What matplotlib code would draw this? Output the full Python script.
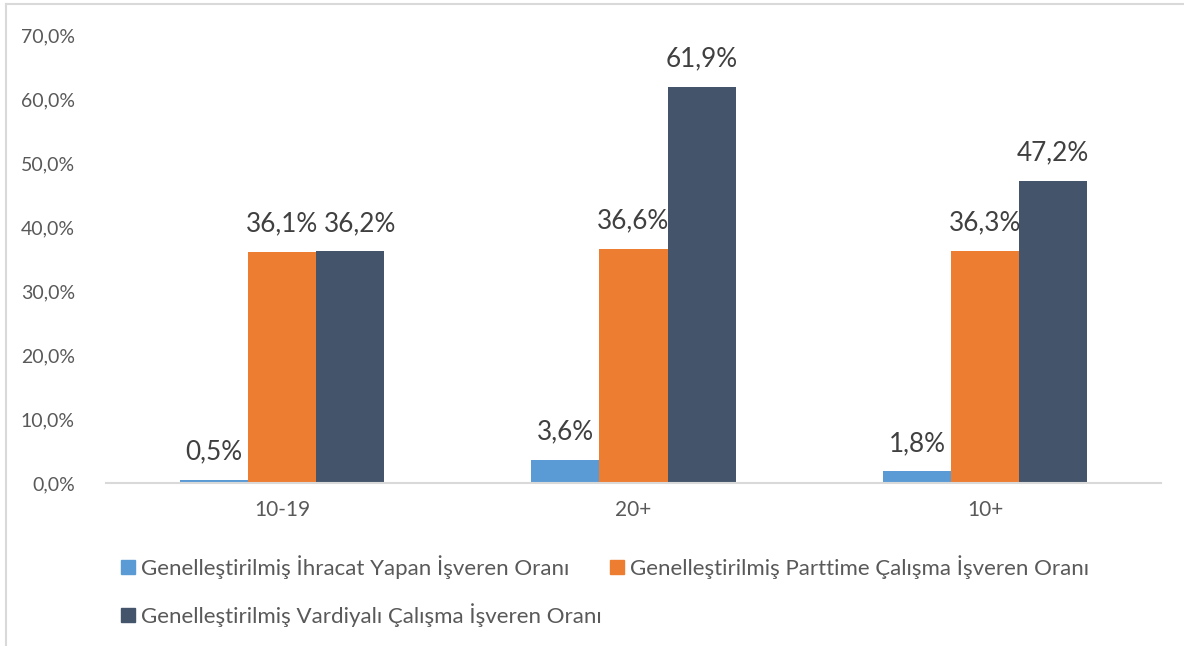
import numpy as np
import matplotlib
matplotlib.use('Agg')
import matplotlib.pyplot as plt
from matplotlib.lines import Line2D
from matplotlib.patches import Patch

plt.rcParams['font.family'] = ['Lato', 'DejaVu Sans']

# veriler
categories = ['10-19', '20+', '10+']
series_names = [
    'Genelleştirilmiş İhracat Yapan İşveren Oranı',
    'Genelleştirilmiş Parttime Çalışma İşveren Oranı',
    'Genelleştirilmiş Vardiyalı Çalışma İşveren Oranı',
]
ihracat = [0.5, 3.6, 1.8]
parttime = [36.1, 36.6, 36.3]
vardiyali = [36.2, 61.9, 47.2]
y_ticks = [0, 10, 20, 30, 40, 50, 60, 70]

colors = ['#5B9BD5', '#ED7D31', '#44546A']
text_gray = '#595959'
label_gray = '#404040'
line_gray = '#D9D9D9'

# 36,2% etiketi orijinalde biraz sağa kaydırılmış
label_shift = {(2, 0): 7}


def pct(v):
    return f'{v:.1f}%'.replace('.', ',')


fig = plt.figure(figsize=(11.84, 6.46), dpi=100)
ax = fig.add_axes([106 / 1184, 1 - 483 / 646, (1161 - 106) / 1184, (483 - 35) / 646])

x = np.arange(len(categories))
width = 0.1935
for i, (vals, col) in enumerate(zip([ihracat, parttime, vardiyali], colors)):
    b = ax.bar(x + (i - 1) * width, vals, width, color=col, zorder=2)
    for j, (rect, v) in enumerate(zip(b, vals)):
        dx = label_shift.get((i, j), 0)
        ax.annotate(pct(v), (rect.get_x() + rect.get_width() / 2, v),
                    xytext=(dx, 11), textcoords='offset points',
                    ha='center', va='bottom', fontsize=18.8, color=label_gray)

ax.set_xlim(-0.5, len(categories) - 0.5)
ax.set_ylim(0, 70)
ax.set_yticks(y_ticks)
ax.set_yticklabels([pct(t) for t in y_ticks])
ax.set_xticks(x)
ax.set_xticklabels(categories)
ax.tick_params(axis='both', length=0, colors=text_gray)
ax.tick_params(axis='y', pad=22.5, labelsize=14)
ax.tick_params(axis='x', pad=12, labelsize=15)
for s in ['top', 'right', 'left']:
    ax.spines[s].set_visible(False)
ax.spines['bottom'].set_color(line_gray)
ax.spines['bottom'].set_linewidth(1.5)

# legend: 1. satır mavi + turuncu, 2. satır koyu
handles = [Patch(color=colors[0]), Patch(color=colors[2]), Patch(color=colors[1])]
labels = [series_names[0], series_names[2], series_names[1]]
fig.legend(handles, labels, loc='upper left', bbox_to_anchor=(121 / 1184, 1 - 555 / 646),
           ncol=2, frameon=False, fontsize=16, labelcolor=text_gray,
           handlelength=0.63, handleheight=0.63, handletextpad=0.27,
           columnspacing=0.35, labelspacing=1.08, borderpad=0, borderaxespad=0)

# çerçeve (üst ve sol)
fig.add_artist(Line2D([6 / 1184, 1], [1 - 4 / 646, 1 - 4 / 646], color=line_gray, lw=1.5))
fig.add_artist(Line2D([6 / 1184, 6 / 1184], [0, 1 - 4 / 646], color=line_gray, lw=1.5))

fig.savefig('out.png', dpi=100, facecolor='white')
